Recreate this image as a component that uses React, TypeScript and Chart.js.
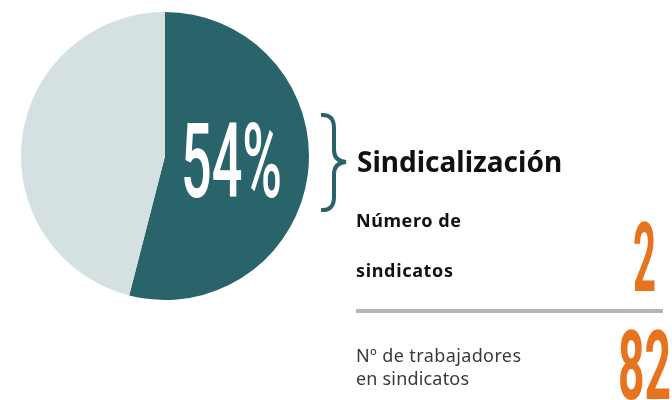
import React, { useEffect, useRef } from "react";
import { Chart, registerables } from "chart.js";

Chart.register(...registerables);

const categories = ["Sindicalizados", "No sindicalizados"];
const shareValues = [54, 46];
const sliceColors = ["#2a646b", "#d5e0e3"];
const title = "Sindicalización";
const unionsLabel = ["Número de", "sindicatos"];
const unionsCount = 2;
const workersLabel = ["Nº de trabajadores", "en sindicatos"];
const workersCount = 82;

export default function App() {
  const ref = useRef<HTMLCanvasElement>(null);
  useEffect(() => {
    if (!ref.current) return;
    const chart = new Chart(ref.current, {
      type: "pie",
      data: {
        labels: categories,
        datasets: [
          {
            data: shareValues,
            backgroundColor: sliceColors,
            borderWidth: 0,
          },
        ],
      },
      options: {
        responsive: false,
        animation: false,
        layout: { padding: { left: 21, top: 12, right: 363, bottom: 100 } },
        plugins: { legend: { display: false }, tooltip: { enabled: false } },
      },
    });
    return () => chart.destroy();
  }, []);

  const big = "'Roboto', 'DejaVu Sans', sans-serif";
  const sans = "'Noto Sans', 'Open Sans', sans-serif";
  return (
    <div
      style={{
        position: "absolute",
        left: 0,
        top: 0,
        width: 672,
        height: 400,
        overflow: "hidden",
        background: "#fff",
      }}
    >
      <canvas ref={ref} width={672} height={400} style={{ position: "absolute", left: 0, top: 0 }} />
      <svg
        width={672}
        height={400}
        style={{ position: "absolute", left: 0, top: 0 }}
      >
        <text
          x={181}
          y={197}
          fill="#ffffff"
          fontFamily={big}
          fontWeight={500}
          fontSize={104}
          textLength={101}
          lengthAdjust="spacingAndGlyphs"
        >
          {shareValues[0]}%
        </text>
        <path
          d="M321,115 Q334,114 334,128 L334,150 Q334,161 346,162 Q334,163 334,174 L334,197 Q334,211 321,210"
          fill="none"
          stroke="#2a646b"
          strokeWidth={4}
        />
        <text x={357} y={172} fill="#111" fontFamily={sans} fontWeight={700} fontSize={28}>
          {title}
        </text>
        <text
          x={356}
          y={227}
          fill="#111"
          fontFamily={sans}
          fontWeight={700}
          fontSize={18}
          textLength={105}
          lengthAdjust="spacing"
        >
          {unionsLabel[0]}
        </text>
        <text
          x={356}
          y={277}
          fill="#111"
          fontFamily={sans}
          fontWeight={700}
          fontSize={18}
          textLength={97}
          lengthAdjust="spacing"
        >
          {unionsLabel[1]}
        </text>
        <text
          x={633}
          y={291}
          fill="#e8731e"
          fontFamily={big}
          fontWeight={700}
          fontSize={96}
          textLength={23}
          lengthAdjust="spacingAndGlyphs"
        >
          {unionsCount}
        </text>
        <rect x={356} y={309} width={307} height={4} fill="#b4b4b9" />
        <text
          x={356}
          y={362}
          fill="#3a3a3a"
          fontFamily={sans}
          fontWeight={400}
          fontSize={18}
          textLength={165}
          lengthAdjust="spacing"
        >
          {workersLabel[0]}
        </text>
        <text
          x={356}
          y={385}
          fill="#3a3a3a"
          fontFamily={sans}
          fontWeight={400}
          fontSize={18}
          textLength={113}
          lengthAdjust="spacing"
        >
          {workersLabel[1]}
        </text>
        <text
          x={618}
          y={399}
          fill="#e8731e"
          fontFamily={big}
          fontWeight={700}
          fontSize={96}
          textLength={53}
          lengthAdjust="spacingAndGlyphs"
        >
          {workersCount}
        </text>
      </svg>
    </div>
  );
}
